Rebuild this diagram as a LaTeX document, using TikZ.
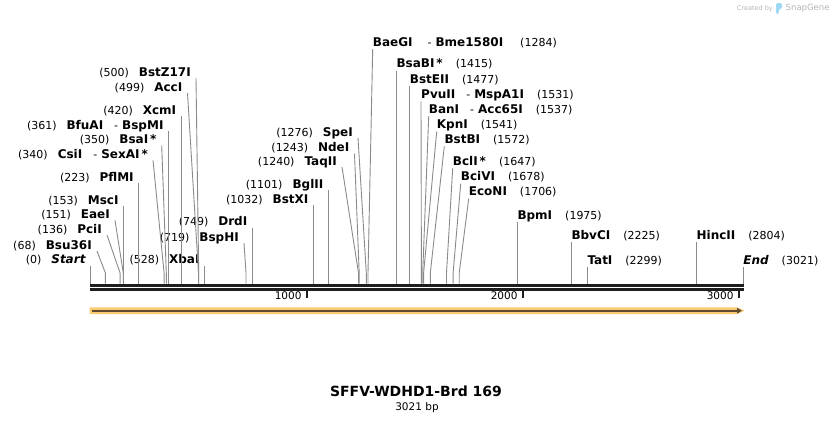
\documentclass[tikz,border=0pt]{standalone}
\usepackage{fontspec}
\setmainfont{DejaVu Sans}
\usetikzlibrary{arrows.meta}
\definecolor{sitegray}{HTML}{8A8A8A}
\definecolor{rulerblack}{HTML}{1E1E1E}
\definecolor{featorange}{HTML}{FBCB72}
\definecolor{featdark}{HTML}{5E4A2E}
\definecolor{logogray}{HTML}{B4B4B4}
\definecolor{logoblue}{HTML}{9FD8F4}
\newcommand{\enz}[1]{{\fontsize{12}{13}\selectfont\bfseries #1}}
\newcommand{\dash}{\hspace{11pt}-\hspace{4pt}}

\begin{document}
\begin{tikzpicture}[x=1pt,y=-1pt, >=stealth,
      lblL/.style={anchor=base east,inner sep=0pt,font=\fontsize{11}{13}\selectfont},
      lblR/.style={anchor=base west,inner sep=0pt,font=\fontsize{11}{13}\selectfont},
      site/.style={draw=sitegray,line width=0.9pt},
      ruler/.style={draw=rulerblack},
      tick/.style={draw=rulerblack,line width=2pt},
      ticklbl/.style={anchor=base east,inner sep=0pt,font=\fontsize{10.5}{12}\selectfont} ]
      \useasboundingbox (0,0) rectangle (834,423);

      % labels left of their sites
      \node[lblL] (startlbl) at (85.7,263.5) {(0)\hspace{10pt}\enz{\itshape Start}};
      \node[lblL] (bsu) at (92,249) {(68)\hspace{10pt}\enz{Bsu36I}};
      \node[lblL] (pci) at (102,233) {(136)\hspace{10pt}\enz{PciI}};
      \node[lblL] (eae) at (110,218.3) {(151)\hspace{10pt}\enz{EaeI}};
      \node[lblL] (msc) at (118.7,204) {(153)\hspace{10pt}\enz{MscI}};
      \node[lblL] (pfl) at (133.9,181) {(223)\hspace{10pt}\enz{PflMI}};
      \node[lblL] (csi) at (148,158.3) {(340)\hspace{10pt}\enz{CsiI}\dash\enz{SexAI\,*}};
      \node[lblL] (bsai) at (156.7,143.3) {(350)\hspace{10pt}\enz{BsaI\,*}};
      \node[lblL] (bfu) at (163.7,129) {(361)\hspace{10pt}\enz{BfuAI}\dash\enz{BspMI}};
      \node[lblL] (xcm) at (176.4,114.3) {(420)\hspace{10pt}\enz{XcmI}};
      \node[lblL] (acc) at (182.5,91) {(499)\hspace{10pt}\enz{AccI}};
      \node[lblL] (bstz) at (191,76) {(500)\hspace{10pt}\enz{BstZ17I}};
      \node[lblL] (xba) at (199.7,263.7) {(528)\hspace{10pt}\enz{XbaI}};
      \node[lblL] (bsph) at (239,241) {(719)\hspace{10pt}\enz{BspHI}};
      \node[lblL] (drd) at (247.5,225.7) {(749)\hspace{10pt}\enz{DrdI}};
      \node[lblL] (bstx) at (308.6,203.3) {(1032)\hspace{10pt}\enz{BstXI}};
      \node[lblL] (bgl) at (323.5,188.3) {(1101)\hspace{10pt}\enz{BglII}};
      \node[lblL] (taq) at (337,165) {(1240)\hspace{10pt}\enz{TaqII}};
      \node[lblL] (nde) at (349.5,151.7) {(1243)\hspace{10pt}\enz{NdeI}};
      \node[lblL] (spe) at (353,136) {(1276)\hspace{10pt}\enz{SpeI}};

      % labels right of their sites
      \node[lblR] (baeg) at (372.7,46) {\enz{BaeGI}\hspace{15pt}-\hspace{4pt}\enz{Bme1580I}\hspace{17pt}(1284)};
      \node[lblR] (bsab) at (396.3,67.7) {\enz{BsaBI\,*}\hspace{13pt}(1415)};
      \node[lblR] (bste) at (409.7,83.3) {\enz{BstEII}\hspace{13pt}(1477)};
      \node[lblR] (pvu) at (421,98.3) {\enz{PvuII}\dash\enz{MspA1I}\hspace{13pt}(1531)};
      \node[lblR] (ban) at (428.7,113.3) {\enz{BanI}\dash\enz{Acc65I}\hspace{13pt}(1537)};
      \node[lblR] (kpn) at (436.7,128.7) {\enz{KpnI}\hspace{13pt}(1541)};
      \node[lblR] (bstb) at (444.3,143.3) {\enz{BstBI}\hspace{13pt}(1572)};
      \node[lblR] (bcl) at (452.7,165.3) {\enz{BclI\,*}\hspace{13pt}(1647)};
      \node[lblR] (bci) at (460.7,180.7) {\enz{BciVI}\hspace{13pt}(1678)};
      \node[lblR] (eco) at (468.7,195.7) {\enz{EcoNI}\hspace{13pt}(1706)};
      \node[lblR] (bpm) at (517.3,219) {\enz{BpmI}\hspace{13pt}(1975)};
      \node[lblR] (bbv) at (571.3,239.3) {\enz{BbvCI}\hspace{13pt}(2225)};
      \node[lblR] (tat) at (587.3,264) {\enz{TatI}\hspace{13pt}(2299)};
      \node[lblR] (hinc) at (696.4,239.3) {\enz{HincII}\hspace{13pt}(2804)};
      \node[lblR] (endlbl) at (743.2,264) {\enz{\itshape End}\hspace{13pt}(3021)};

      % site lines
      \draw[site] (startlbl.base east) ++(5,2) -- (90.7,273) -- (90.7,283.5);
      \draw[site] (bsu.base east) ++(5,2) -- (105.4,273) -- (105.4,283.5);
      \draw[site] (pci.base east) ++(5,2) -- (120.1,273) -- (120.1,283.5);
      \draw[site] (eae.base east) ++(5,2) -- (123.3,273) -- (123.3,283.5);
      \draw[site] (msc.base east) ++(5,2) -- (123.7,273) -- (123.7,283.5);
      \draw[site] (pfl.base east) ++(5,2) -- (138.9,273) -- (138.9,283.5);
      \draw[site] (csi.base east) ++(5,2) -- (164.1,273) -- (164.1,283.5);
      \draw[site] (bsai.base east) ++(5,2) -- (166.3,273) -- (166.3,283.5);
      \draw[site] (bfu.base east) ++(5,2) -- (168.7,273) -- (168.7,283.5);
      \draw[site] (xcm.base east) ++(5,2) -- (181.4,273) -- (181.4,283.5);
      \draw[site] (acc.base east) ++(5,2) -- (198.5,273) -- (198.5,283.5);
      \draw[site] (bstz.base east) ++(5,2) -- (198.7,273) -- (198.7,283.5);
      \draw[site] (xba.base east) ++(5,2) -- (204.7,273) -- (204.7,283.5);
      \draw[site] (bsph.base east) ++(5,2) -- (246,273) -- (246,283.5);
      \draw[site] (drd.base east) ++(5,2) -- (252.5,273) -- (252.5,283.5);
      \draw[site] (bstx.base east) ++(5,2) -- (313.6,273) -- (313.6,283.5);
      \draw[site] (bgl.base east) ++(5,2) -- (328.5,273) -- (328.5,283.5);
      \draw[site] (taq.base east) ++(5,2) -- (358.5,273) -- (358.5,283.5);
      \draw[site] (nde.base east) ++(5,2) -- (359.2,273) -- (359.2,283.5);
      \draw[site] (spe.base east) ++(5,2) -- (366.3,273) -- (366.3,283.5);

      \draw[site] (baeg.base west) ++(0,3) -- (368,273) -- (368,283.5);
      \draw[site] (bsab.base west) ++(0,3) -- (396.3,273) -- (396.3,283.5);
      \draw[site] (bste.base west) ++(0,3) -- (409.7,273) -- (409.7,283.5);
      \draw[site] (pvu.base west) ++(0,3) -- (421.4,273) -- (421.4,283.5);
      \draw[site] (ban.base west) ++(0,3) -- (422.7,273) -- (422.7,283.5);
      \draw[site] (kpn.base west) ++(0,3) -- (423.6,273) -- (423.6,283.5);
      \draw[site] (bstb.base west) ++(0,3) -- (430.3,273) -- (430.3,283.5);
      \draw[site] (bcl.base west) ++(0,3) -- (446.5,273) -- (446.5,283.5);
      \draw[site] (bci.base west) ++(0,3) -- (453.1,273) -- (453.1,283.5);
      \draw[site] (eco.base west) ++(0,3) -- (459.2,273) -- (459.2,283.5);
      \draw[site] (bpm.base west) ++(0,3) -- (517.3,273) -- (517.3,283.5);
      \draw[site] (bbv.base west) ++(0,3) -- (571.3,273) -- (571.3,283.5);
      \draw[site] (tat.base west) ++(0,3) -- (587.3,273) -- (587.3,283.5);
      \draw[site] (hinc.base west) ++(0,3) -- (696.4,273) -- (696.4,283.5);
      \draw[site] (endlbl.base west) ++(0,3) -- (743.2,273) -- (743.2,283.5);

      % ruler
      \draw[ruler,line width=3.2pt] (89.5,285.3) -- (744,285.3);
      \draw[ruler,line width=2.8pt] (89.5,289.6) -- (744,289.6);
      \draw[tick] (306.7,291) -- (306.7,297.5);
      \draw[tick] (522.7,291) -- (522.7,297.5);
      \draw[tick] (738.7,291) -- (738.7,297.5);
      \node[ticklbl] (t1000) at (301.7,299.5) {1000};
      \node[ticklbl] (t2000) at (517.7,299.5) {2000};
      \node[ticklbl] (t3000) at (733.7,299.5) {3000};

      % feature arrow
      \fill[featorange] (89.5,307.3) -- (737,307.3) -- (744.5,310.7) -- (737,314.1) -- (89.5,314.1) -- cycle;
      \draw[featdark,line width=2.2pt,-{Triangle[length=5pt,width=5.5pt]}] (91.5,310.7) -- (742,310.7);

      % title
      \node[inner sep=0pt,anchor=base,font=\fontsize{14}{16}\selectfont\bfseries] (title) at (416,396.7) {SFFV-WDHD1-Brd 169};
      \node[inner sep=0pt,anchor=base,font=\fontsize{10.5}{12}\selectfont] (size) at (417,410) {3021 bp};

      % logo
      \node[inner sep=0pt,anchor=base east,text=logogray,font=\fontsize{6.5}{8}\selectfont] (created) at (773,10) {Created by};
      \fill[logoblue,rounded corners=2pt] (776,14) -- (776,3) -- (782,3) -- (782,9) -- (778.8,9) -- (778.8,14) -- cycle;
      \node[inner sep=0pt,anchor=base west,text=logogray,font=\fontsize{8.5}{10}\selectfont] (snapgene) at (785.5,10) {SnapGene};
    \end{tikzpicture}
\end{document}
